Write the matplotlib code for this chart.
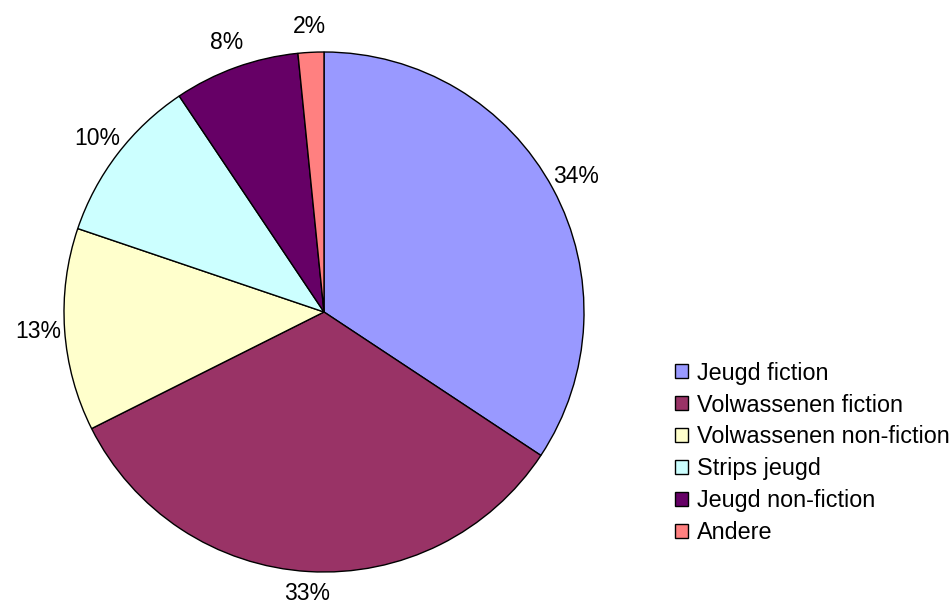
import matplotlib.pyplot as plt

plt.rcParams['font.family'] = ['Liberation Sans', 'DejaVu Sans']

categories = ["Jeugd fiction", "Volwassenen fiction", "Volwassenen non-fiction",
              "Strips jeugd", "Jeugd non-fiction", "Andere"]
shares = [34.3, 33.3, 12.6, 10.4, 7.8, 1.6]
colors = ["#9999FF", "#993366", "#FFFFCC", "#CCFFFF", "#660066", "#FF8080"]

fig = plt.figure(figsize=(9.49, 6.07), dpi=100)
ax = fig.add_axes([64 / 949, 35 / 607, 520 / 949, 520 / 607])

wedges, texts, autotexts = ax.pie(
    shares, colors=colors, startangle=90, counterclock=False,
    autopct="%1.0f%%", pctdistance=1.1, radius=1.0,
    wedgeprops=dict(edgecolor="black", linewidth=1.0),
    textprops=dict(fontsize=16.5, color="black"))
ax.set_xlim(-1, 1)
ax.set_ylim(-1, 1)
ax.set_aspect("equal")
# bottom label sits right at the edge; nudge it up a bit so it stays in frame
autotexts[1].set_y(autotexts[1].get_position()[1] + 0.015)

fig.legend(wedges, categories, loc="upper left",
           bbox_to_anchor=(670 / 949, 1 - 357 / 607),
           frameon=False, fontsize=16.8, handlelength=0.55, handleheight=0.55,
           handletextpad=0.4, labelspacing=0.38, borderpad=0.2, borderaxespad=0)

fig.savefig("out.png", dpi=100)
